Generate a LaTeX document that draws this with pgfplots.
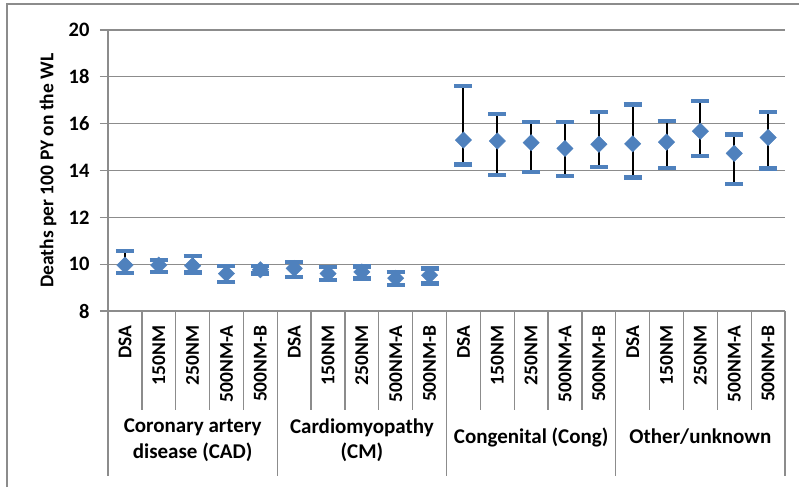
\documentclass[border=0pt]{standalone}
\usepackage{pgfplots}
\usepackage{pgfplotstable}
\pgfplotsset{compat=1.18}
\usepackage{fontspec}
\setmainfont{Carlito}
\definecolor{mblue}{HTML}{4F81BD}
\definecolor{gridc}{HTML}{8C8C8C}
\pgfplotstableread{
x lo y hi
0 9.63 9.96 10.56
1 9.67 9.96 10.17
2 9.64 9.93 10.34
3 9.25 9.60 9.91
4 9.60 9.76 9.93
5 9.45 9.82 10.10
6 9.32 9.60 9.88
7 9.39 9.67 9.90
8 9.10 9.40 9.67
9 9.17 9.53 9.82
10 14.26 15.30 17.60
11 13.80 15.26 16.41
12 13.93 15.19 16.08
13 13.76 14.94 16.08
14 14.16 15.12 16.50
15 13.70 15.14 16.82
16 14.12 15.21 16.10
17 14.63 15.68 16.97
18 13.43 14.73 15.54
19 14.09 15.41 16.50
}\datatable
\begin{document}
\begin{tikzpicture}
\useasboundingbox (-108pt,-176pt) rectangle (691pt,311pt);
\draw[gridc, line width=1.3pt] (-101pt,-176pt) -- (-101pt,307pt) -- (691pt,307pt);
\begin{axis}[
  at={(0,0)}, anchor=south west,
  scale only axis,
  width=677pt, height=281pt,
  xmin=-0.5, xmax=19.5,
  ymin=8, ymax=20,
  ytick={8,10,...,20},
  xtick={0,...,19},
  xticklabels={DSA,150NM,250NM,500NM-A,500NM-B,DSA,150NM,250NM,500NM-A,500NM-B,DSA,150NM,250NM,500NM-A,500NM-B,DSA,150NM,250NM,500NM-A,500NM-B},
  xticklabel style={rotate=90, anchor=east, font=\bfseries\fontsize{19.5}{20}\selectfont, xshift=-3pt},
  yticklabel style={font=\bfseries\fontsize{20.5}{21}\selectfont, xshift=-7pt},
  /pgf/number format/assume math mode=true,
  axis x line=bottom, axis y line=left,
  axis line style={-, gridc, line width=1.3pt},
  ymajorgrids, major grid style={gridc, line width=1.3pt},
  x tick style={draw=none},
  y tick style={gridc, line width=1.3pt},
  tick align=outside, major tick length=8pt,
  clip=false,
]
\addplot[only marks, mark=square*, mark size=5.8pt,
  mark options={mblue, rotate=45},
  error bars/.cd, y dir=both, y explicit,
  error bar style={black, line width=2pt},
  error mark options={mblue, line width=4.3pt, mark size=9pt, rotate=90}]
  table[x=x, y=y, y error plus expr=\thisrow{hi}-\thisrow{y}, y error minus expr=\thisrow{y}-\thisrow{lo}] {\datatable};
\pgfplotsinvokeforeach{0.5,1.5,2.5,3.5,5.5,6.5,7.5,8.5,10.5,11.5,12.5,13.5,15.5,16.5,17.5,18.5}
  {\draw[gridc, line width=1.3pt] (axis cs:#1,8) -- ++(0pt,-99pt);}
\pgfplotsinvokeforeach{-0.5,4.5,9.5,14.5,19.5}
  {\draw[gridc, line width=1.3pt] (axis cs:#1,8) -- ++(0pt,-165pt);}
\node[align=center, font=\bfseries\fontsize{21}{25.5}\selectfont] at ([yshift=-129pt]axis cs:2,8) {Coronary artery\\disease (CAD)};
\node[align=center, font=\bfseries\fontsize{21}{25.5}\selectfont] at ([yshift=-129pt]axis cs:7,8) {Cardiomyopathy\\(CM)};
\node[align=center, font=\bfseries\fontsize{21}{25.5}\selectfont] at ([yshift=-126pt]axis cs:12,8) {Congenital (Cong)};
\node[align=center, font=\bfseries\fontsize{21}{25.5}\selectfont] at ([yshift=-126pt]axis cs:17,8) {Other/unknown};
\node[rotate=90, font=\bfseries\fontsize{19.5}{20}\selectfont] at ([xshift=-60pt]axis cs:-0.5,14) {Deaths per 100 PY on the WL};
\end{axis}
\end{tikzpicture}
\end{document}
